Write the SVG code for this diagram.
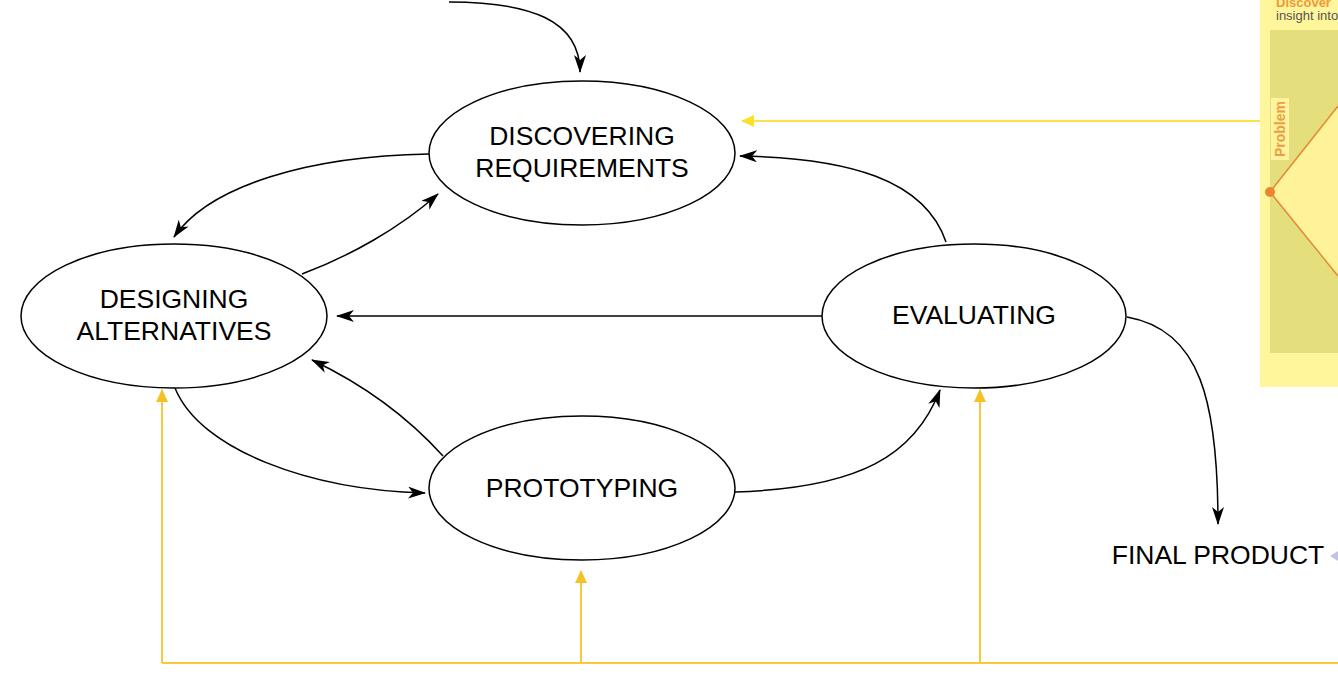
<svg xmlns="http://www.w3.org/2000/svg" width="1338" height="685" viewBox="0 0 1338 685">
<style>
.node ellipse{fill:#fff;stroke:#000;stroke-width:1.5}
.lbl{font-family:"Liberation Sans",Arial,sans-serif;font-size:26.5px;fill:#000;text-anchor:middle}
.c{fill:none;stroke:#000;stroke-width:1.5;marker-end:url(#ah)}
.y{fill:none;stroke:#f6c93e;stroke-width:2}
</style>
<defs>
<marker id="ah" viewBox="0 0 18 12" refX="17" refY="6" markerWidth="18" markerHeight="12" markerUnits="userSpaceOnUse" orient="auto">
<path d="M0,0 L18,6 L0,12 L5,6 z" fill="#000"/>
</marker>
<marker id="ya" viewBox="0 0 13 12" refX="12" refY="6" markerWidth="13" markerHeight="12" markerUnits="userSpaceOnUse" orient="auto">
<path d="M0,0 L13,6 L0,12 z" fill="#f7c125"/>
</marker>
<marker id="yb" viewBox="0 0 13 12" refX="12" refY="6" markerWidth="13" markerHeight="12" markerUnits="userSpaceOnUse" orient="auto">
<path d="M0,0 L13,6 L0,12 z" fill="#f9e02a"/>
</marker>
</defs>

<g id="panel">
<rect x="1260" y="0" width="80" height="387" fill="#fff59b"/>
<rect x="1270" y="30" width="70" height="323" fill="#e4df7c"/>
<polygon points="1270,192 1338,106 1338,276" fill="#fff39a"/>
<line x1="1270" y1="192" x2="1338" y2="106" stroke="#e28a35" stroke-width="1.5"/>
<line x1="1270" y1="192" x2="1338" y2="276" stroke="#e28a35" stroke-width="1.5"/>
<circle cx="1270" cy="192" r="5" fill="#ea8630"/>
<rect x="1271" y="98" width="18" height="62" fill="#fff3a0"/>
<text x="1285" y="129" transform="rotate(-90 1285 129)" font-family="Liberation Sans,Arial,sans-serif" font-size="14" font-weight="bold" fill="#eba040" text-anchor="middle">Problem</text>
<text x="1276" y="7" font-family="Liberation Sans,Arial,sans-serif" font-size="13" font-weight="bold" fill="#ee9a3a">Discover</text>
<text x="1276" y="20" font-family="Liberation Sans,Arial,sans-serif" font-size="13" fill="#555">insight into</text>
</g>

<g id="connectors">
<path class="c" d="M449,2 C530,2 580,20 580,72"/>
<path class="c" d="M429,154 C310,156 210,185 174,237"/>
<path class="c" d="M302,274 C350,256 400,228 438,194"/>
<path class="c" d="M946,242 C925,180 850,158 740,156"/>
<path class="c" d="M822,316 L337,316"/>
<path class="c" d="M443,456 C415,425 375,390 312,360"/>
<path class="c" d="M175,388 C200,450 310,490 425,493"/>
<path class="c" d="M735,492 C860,488 915,455 940,390"/>
<path class="c" d="M1127,317 C1200,330 1218,400 1218,524"/>
<polyline class="y" points="1338,663 162,663"/>
<path class="y" d="M162,663 L162,390" marker-end="url(#ya)"/>
<path class="y" d="M581,663 L581,571" marker-end="url(#ya)"/>
<path class="y" d="M980,663 L980,390" marker-end="url(#ya)"/>
<path d="M1260,121 L742,121" fill="none" stroke="#f9e34a" stroke-width="2" marker-end="url(#yb)"/>
<path d="M1338,551 L1330,556 L1338,561 z" fill="#c4c2e2"/>
</g>

<g id="discovering" class="node">
<ellipse cx="582" cy="153" rx="153" ry="72"/>
<text class="lbl" x="582" y="145">DISCOVERING</text>
<text class="lbl" x="582" y="177">REQUIREMENTS</text>
</g>
<g id="designing" class="node">
<ellipse cx="174" cy="316" rx="153" ry="72"/>
<text class="lbl" x="174" y="308">DESIGNING</text>
<text class="lbl" x="174" y="340">ALTERNATIVES</text>
</g>
<g id="evaluating" class="node">
<ellipse cx="974" cy="316" rx="152" ry="72"/>
<text class="lbl" x="974" y="324">EVALUATING</text>
</g>
<g id="prototyping" class="node">
<ellipse cx="582" cy="488" rx="153" ry="72"/>
<text class="lbl" x="582" y="497">PROTOTYPING</text>
</g>
<g id="final">
<text class="lbl" x="1218" y="564">FINAL PRODUCT</text>
</g>
</svg>
